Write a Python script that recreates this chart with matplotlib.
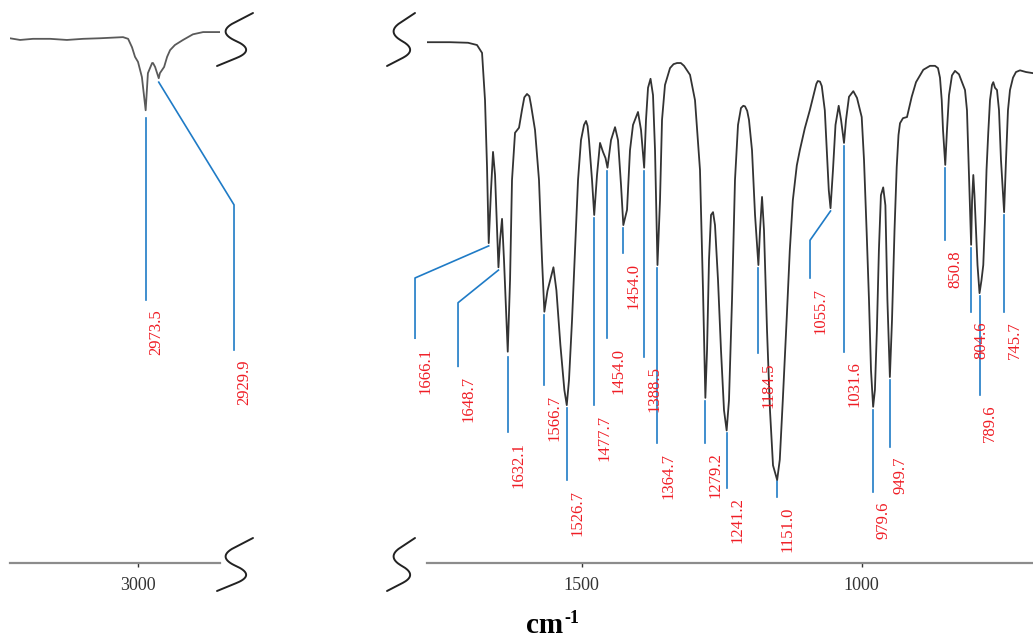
import matplotlib

matplotlib.use("Agg")
import matplotlib.pyplot as plt  # noqa: E402
import numpy as np  # noqa: E402
from matplotlib.lines import Line2D  # noqa: E402

plt.rcParams["font.family"] = ["Liberation Serif", "DejaVu Serif"]

W, H = 1033, 639
BLUE = "#1f7bc6"
RED = "#ef1c24"
TRACE = "#333333"

# ---- C-H stretching region ---------------------------------------------------
ch_wn = [3426, 3392, 3349, 3292, 3236, 3182, 3126, 3049, 3032, 3019, 3009, 2999,
         2986, 2973.5, 2966, 2952, 2949, 2942, 2929.9, 2926, 2912, 2902, 2892,
         2876, 2849, 2816, 2782, 2749, 2726]
ch_t = [93.2, 92.9, 93.1, 93.1, 92.9, 93.1, 93.2, 93.4, 93.1, 91.6, 89.9, 89.0,
        86.3, 80.4, 87.0, 88.8, 88.8, 88.1, 86.1, 87.0, 88.1, 89.9, 91.1,
        92.0, 92.9, 93.9, 94.3, 94.3, 94.3]

# ---- fingerprint region --------------------------------------------------------
fp_wn = [1776.3, 1735.2, 1703.0, 1687.0, 1678.0, 1672.7, 1669.1, 1666.1, 1662.0,
         1658.4, 1654.8, 1648.7, 1645.9, 1642.3, 1638.8, 1632.1, 1628.0, 1624.5,
         1619.1, 1612.0, 1606.6, 1602.5, 1597.7, 1593.5, 1590.5, 1583.4, 1576.3,
         1570.9, 1566.7, 1561.2, 1550.5, 1545.2, 1538.1, 1531.0, 1526.7, 1522.7,
         1517.3, 1512.0, 1506.6, 1501.3, 1495.9, 1492.3, 1489.5, 1487.0, 1481.6,
         1477.7, 1472.7, 1467.3, 1462.0, 1457.5, 1454.0, 1447.7, 1440.5, 1435.2,
         1429.8, 1425.7, 1419.1, 1413.8, 1408.4, 1399.5, 1394.1, 1388.5, 1385.2,
         1381.6, 1377.1, 1372.7, 1369.1, 1366.4, 1364.7, 1360.2, 1356.6, 1351.3,
         1342.3, 1336.0, 1329.8, 1323.0, 1317.3, 1306.6, 1297.7, 1288.8, 1283.4,
         1279.2, 1276.2, 1272.7, 1269.1, 1265.5, 1262.0, 1256.6, 1251.3, 1245.9,
         1241.2, 1237.0, 1231.6, 1226.3, 1220.9, 1215.6, 1211.5, 1208.4, 1204.5,
         1201.3, 1195.9, 1190.5, 1184.5, 1181.6, 1178.0, 1174.5, 1169.1, 1163.8,
         1158.4, 1151.0, 1146.3, 1140.9, 1133.8, 1128.4, 1123.0, 1115.9, 1110.5,
         1101.6, 1092.7, 1083.8, 1081.0, 1078.4, 1074.5, 1071.3, 1065.9, 1062.3,
         1058.8, 1055.7, 1051.3, 1046.8, 1041.1, 1036.9, 1031.6, 1028.0, 1022.7,
         1015.0, 1008.4, 1000.0, 995.9, 991.1, 987.0, 983.4, 979.6, 976.4, 972.9,
         969.3, 965.7, 961.6, 957.7, 954.1, 949.7, 945.9, 941.4, 937.5, 934.3,
         931.6, 926.3, 919.1, 910.7, 903.0, 890.0, 878.0, 869.1, 863.8, 860.2,
         857.1, 854.8, 850.8, 847.7, 844.1, 838.8, 833.4, 826.3, 820.9, 815.5,
         812.0, 809.3, 806.6, 804.6, 802.9, 800.7, 798.6, 795.9, 793.2, 789.6,
         786.1, 782.9, 779.8, 777.1, 774.0, 770.9, 767.3, 765.0, 762.0, 758.4,
         754.8, 751.3, 745.7, 742.3, 738.8, 735.2, 729.8, 724.5, 717.3, 706.6,
         694.1]
fp_t = [92.5, 92.5, 92.4, 92.0, 90.6, 82.2, 70.3, 56.8, 66.2,
        73.0, 68.9, 52.5, 57.3, 61.1, 53.8, 37.5, 50.2, 68.0,
        76.4, 77.3, 80.5, 82.7, 83.3, 82.9, 81.3, 76.9, 68.0,
        53.8, 44.6, 48.3, 52.5, 48.4, 38.7, 30.7, 28.0, 32.5,
        43.1, 55.6, 68.0, 75.1, 77.8, 78.5, 77.6, 75.1, 68.0,
        61.8, 68.9, 74.6, 73.0, 71.9, 70.2, 75.1, 77.4, 75.1,
        67.1, 60.0, 62.7, 73.3, 77.8, 80.1, 76.9, 70.2, 78.7,
        84.4, 86.0, 83.1, 73.3, 60.9, 52.9, 64.4, 78.7, 84.9,
        87.9, 88.6, 88.8, 88.8, 88.3, 86.7, 82.2, 69.8, 48.4,
        29.3, 37.8, 53.8, 61.8, 62.3, 60.0, 50.2, 37.8, 27.1,
        23.5, 28.9, 46.7, 68.0, 77.8, 80.8, 81.2, 81.1, 80.3,
        78.7, 73.3, 61.8, 52.9, 59.1, 65.0, 59.1, 41.3, 27.1,
        17.3, 14.7, 18.3, 28.9, 43.7, 55.5, 64.4, 70.6, 73.3,
        77.2, 80.4, 84.0, 85.1, 85.6, 85.5, 84.7, 80.4, 73.3,
        66.2, 63.0, 69.8, 77.8, 81.2, 78.7, 74.6, 78.7, 82.8,
        83.8, 82.6, 79.2, 71.6, 58.6, 46.7, 34.2, 27.7, 30.7, 41.3,
        55.5, 65.3, 66.7, 63.5, 46.7, 33.0, 43.1, 59.1, 70.3, 76.0,
        78.1, 79.0, 79.2, 82.8, 85.4, 87.6, 88.3, 88.3, 87.9, 86.2,
        82.2, 76.9, 70.7, 76.9, 83.1, 86.6, 87.4, 86.8, 85.4, 84.0,
        80.4, 71.6, 62.6, 56.5, 64.4, 68.9, 65.3, 59.1, 52.9, 47.9,
        50.2, 52.9, 60.9, 69.8, 76.4, 82.2, 84.9, 85.4, 84.4, 84.0,
        80.4, 71.6, 62.3, 71.6, 80.4, 84.0, 86.2, 87.2, 87.5, 87.2,
        87.0]

# ---- peak labels ---------------------------------------------------------------
ch_labels = ["2973.5", "2929.9"]
ch_peak_wn = [2973.5, 2929.9]

fp_labels = ["1666.1", "1648.7", "1632.1", "1566.7", "1526.7", "1477.7", "1454.0",
             "1454.0", "1388.5", "1364.7", "1279.2", "1241.2", "1184.5", "1151.0",
             "1055.7", "1031.6", "979.6", "949.7", "850.8", "804.6", "789.6", "745.7"]
fp_peak_wn = [1666.1, 1648.7, 1632.1, 1566.7, 1526.7, 1477.7, 1454.0,
              1425.7, 1388.5, 1364.7, 1279.2, 1241.2, 1184.5, 1151.0,
              1055.7, 1031.6, 979.6, 949.7, 850.8, 804.6, 789.6, 745.7]

# leader layout: (start T, end T, elbow (wn, T) or None)
ch_leaders = [(79.0, 46.7, None), (85.4, 37.8, (2679, 63.6))]
fp_leaders = [(56.3, 39.9, (1797.7, 50.6)), (52.0, 34.9, (1720.9, 46.2)),
              (36.6, 23.2, None), (44.0, 31.6, None), (27.5, 14.7, None),
              (61.3, 28.0, None), (69.6, 39.9, None), (59.5, 55.0, None),
              (69.6, 36.6, None), (52.4, 21.3, None), (28.7, 21.3, None),
              (23.0, 13.3, None), (52.4, 37.3, None), (14.5, 11.7, None),
              (62.5, 50.6, (1092.3, 57.3)), (74.1, 37.5, None),
              (27.1, 12.6, None), (32.5, 20.6, None), (70.1, 57.3, None),
              (55.9, 44.6, None), (47.4, 29.8, None), (61.8, 44.6, None)]


def px_axes(left, right, top=0.0, bottom=562.7):
    return [left / W, 1 - bottom / H, (right - left) / W, (bottom - top) / H]


def style_axis(ax, ticks):
    for side in ("top", "left", "right"):
        ax.spines[side].set_visible(False)
    ax.spines["bottom"].set_color("#8c8c8c")
    ax.spines["bottom"].set_linewidth(1.6)
    ax.set_yticks([])
    ax.set_ylim(0, 100)
    ax.set_xticks(ticks)
    ax.tick_params(axis="x", direction="out", length=3, width=1, colors="#333333",
                   labelsize=13, pad=7)
    ax.patch.set_visible(False)


def annotate_peaks(ax, labels, positions, leaders):
    for text, wn, (t0, t1, elbow) in zip(labels, positions, leaders):
        if elbow is None:
            xs, ys, xv = [wn, wn], [t0, t1], wn
        else:
            xs, ys, xv = [wn, elbow[0], elbow[0]], [t0, elbow[1], t1], elbow[0]
        ax.plot(xs, ys, color=BLUE, lw=1.2, clip_on=False, zorder=2)
        ax.annotate(text, xy=(xv, t1), xytext=(7.6, -7), textcoords="offset points",
                    rotation=90, ha="center", va="top", color=RED, fontsize=12,
                    annotation_clip=False)


def rounded(pts, cut=0.25, n=5):
    # corner-cutting that keeps both end points
    pts = np.asarray(pts, float)
    for _ in range(n):
        new = [pts[0]]
        for p, q in zip(pts[:-1], pts[1:]):
            new += [(1 - cut) * p + cut * q, cut * p + (1 - cut) * q]
        new.append(pts[-1])
        pts = np.array(new)
    return pts


def break_mark(fig, cx, top, hw):
    # S-shaped axis-break symbol, in pixel units
    zig = [(cx + hw - 3, top), (cx - hw, top + 19), (cx + hw, top + 37),
           (cx - hw + 1, top + 53)]
    p = rounded(zig)
    fig.add_artist(Line2D(p[:, 0] / W, 1 - p[:, 1] / H, color="#222222", lw=1.4,
                          solid_capstyle="round", solid_joinstyle="round"))


fig = plt.figure(figsize=(W / 100, H / 100), dpi=100)

ax_ch = fig.add_axes(px_axes(10, 220))
ax_ch.plot(ch_wn, ch_t, color="#5a5a5a", lw=1.3, zorder=3)
ax_ch.set_xlim(3425.7, 2725.7)
style_axis(ax_ch, [3000])
annotate_peaks(ax_ch, ch_labels, ch_peak_wn, ch_leaders)

ax_fp = fig.add_axes(px_axes(427, 1033))
ax_fp.plot(fp_wn, fp_t, color=TRACE, lw=1.3, zorder=3, solid_joinstyle="round")
ax_fp.set_xlim(1776.3, 694.1)
style_axis(ax_fp, [1500, 1000])
annotate_peaks(ax_fp, fp_labels, fp_peak_wn, fp_leaders)

for cx, hw in ((236, 20), (402, 16)):
    break_mark(fig, cx, 13, hw)
    break_mark(fig, cx, 538, hw)

fig.text(563 / W, 1 - 633 / H, "cm", ha="right", va="baseline",
         fontsize=21, fontweight="bold")
fig.text(564 / W, 1 - 623 / H, "-1", ha="left", va="baseline",
         fontsize=13, fontweight="bold")

fig.savefig("out.png", dpi=100)
